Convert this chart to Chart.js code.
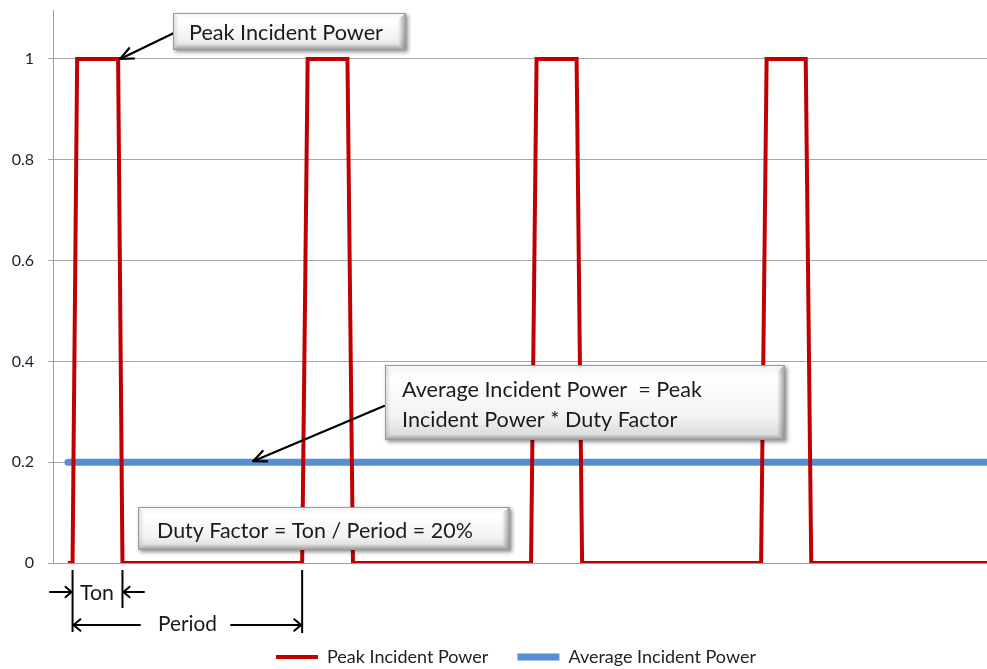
<!DOCTYPE html>
<html><head><meta charset="utf-8">
<script src="https://cdn.jsdelivr.net/npm/chart.js@4.4.1/dist/chart.umd.min.js"></script>
<style>html,body{margin:0;padding:0;background:#fff;overflow:hidden;}</style>
</head><body>
<canvas id="c" width="987" height="669"></canvas>
<script>
// ---------- data ----------
const seriesNames = ['Peak Incident Power', 'Average Incident Power'];
const peakTime  = [0.65, 0.85, 1.05, 2.83, 3.02, 10.83, 11.07, 12.80, 13.04, 20.78, 21.02, 22.76, 23.00, 30.78, 31.02, 32.72, 32.96, 40.6];
const peakPower = [0,    0,    1,    1,    0,    0,     1,     1,     0,     0,     1,     1,     0,     0,     1,     1,     0,     0];
const avgTime   = [0.65, 40.6];
const avgPower  = [0.2, 0.2];
const yTicks    = [0, 0.2, 0.4, 0.6, 0.8, 1];
const xRange    = [0, 40.6];
const yRange    = [0, 1.097];
// annotation anchors (data coordinates)
const peakArrowTip = [2.83, 1];
const avgArrowTip  = [8.7, 0.2];
const tonStart = 0.85, tonEnd = 3.02, periodEnd = 10.83;
const calloutPeak = 'Peak Incident Power';
const calloutAvg  = ['Average Incident Power  = Peak', 'Incident Power * Duty Factor'];
const calloutDuty = 'Duty Factor = Ton / Period = 20%';
const labelTon = 'Ton', labelPeriod = 'Period';

const FONT = "Lato, 'Open Sans', sans-serif";
const TEXT = '#1b1b1b';
const LEGEND_PAD = 29, LEGEND_FONT = 18;

function fitSize(ctx, text, target) {
  ctx.font = '100px ' + FONT;
  return 100 * target / ctx.measureText(text).width;
}
function drawBox(ctx, x, y, w, h) {
  ctx.save();
  ctx.shadowColor = 'rgba(0,0,0,0.45)';
  ctx.shadowBlur = 4; ctx.shadowOffsetX = 2; ctx.shadowOffsetY = 2;
  ctx.fillStyle = '#d8d8d8';
  ctx.fillRect(x, y, w, h);
  ctx.restore();
  ctx.save();
  let g = ctx.createLinearGradient(0, y, 0, y + h);
  g.addColorStop(0, '#f4f4f4'); g.addColorStop(0.2, '#ffffff');
  g.addColorStop(0.7, '#f2f2f2'); g.addColorStop(1, '#d6d6d6');
  ctx.fillStyle = g; ctx.fillRect(x, y, w, h);
  g = ctx.createLinearGradient(x + w - 8, 0, x + w, 0);
  g.addColorStop(0, 'rgba(0,0,0,0)'); g.addColorStop(1, 'rgba(0,0,0,0.38)');
  ctx.fillStyle = g;
  ctx.beginPath(); ctx.moveTo(x + w - 8, y + 6); ctx.lineTo(x + w, y); ctx.lineTo(x + w, y + h); ctx.lineTo(x + w - 8, y + h - 6); ctx.closePath(); ctx.fill();
  g = ctx.createLinearGradient(0, y + h - 6, 0, y + h);
  g.addColorStop(0, 'rgba(0,0,0,0)'); g.addColorStop(1, 'rgba(0,0,0,0.30)');
  ctx.fillStyle = g;
  ctx.beginPath(); ctx.moveTo(x + 6, y + h - 6); ctx.lineTo(x + w - 8, y + h - 6); ctx.lineTo(x + w, y + h); ctx.lineTo(x, y + h); ctx.closePath(); ctx.fill();
  g = ctx.createLinearGradient(x, 0, x + 6, 0);
  g.addColorStop(0, 'rgba(0,0,0,0.14)'); g.addColorStop(1, 'rgba(0,0,0,0)');
  ctx.fillStyle = g;
  ctx.beginPath(); ctx.moveTo(x, y); ctx.lineTo(x + 6, y + 6); ctx.lineTo(x + 6, y + h - 6); ctx.lineTo(x, y + h); ctx.closePath(); ctx.fill();
  ctx.strokeStyle = '#9a9a9a'; ctx.lineWidth = 1;
  ctx.strokeRect(x + 0.5, y + 0.5, w - 1, h - 1);
  ctx.restore();
}
function arrow(ctx, fx, fy, tx, ty, len, spread, width) {
  ctx.save();
  ctx.strokeStyle = '#000'; ctx.lineWidth = width || 2; ctx.lineCap = 'round'; ctx.lineJoin = 'round';
  ctx.beginPath(); ctx.moveTo(fx, fy); ctx.lineTo(tx, ty); ctx.stroke();
  const a = Math.atan2(ty - fy, tx - fx);
  ctx.beginPath();
  ctx.moveTo(tx - len * Math.cos(a - spread), ty - len * Math.sin(a - spread));
  ctx.lineTo(tx, ty);
  ctx.lineTo(tx - len * Math.cos(a + spread), ty - len * Math.sin(a + spread));
  ctx.stroke();
  ctx.restore();
}
function vline(ctx, x, y1, y2) {
  ctx.save(); ctx.strokeStyle = '#000'; ctx.lineWidth = 2;
  ctx.beginPath(); ctx.moveTo(x, y1); ctx.lineTo(x, y2); ctx.stroke(); ctx.restore();
}
function text(ctx, s, x, y, size) {
  ctx.save(); ctx.font = size.toFixed(2) + 'px ' + FONT; ctx.fillStyle = TEXT;
  ctx.textAlign = 'left'; ctx.textBaseline = 'alphabetic'; ctx.fillText(s, x, y); ctx.restore();
}

const annot = {
  id: 'annot',
  afterLayout(chart) {
    const lg = chart.legend;
    if (lg) {
      const h = lg.height;
      lg.top = 657 - LEGEND_PAD - LEGEND_FONT / 2;
      lg.bottom = lg.top + h;
      lg.left = 45; lg.right = 987;
    }
  },
  afterDraw(chart) {
    const ctx = chart.ctx, xs = chart.scales.x, ys = chart.scales.y;
    const px = v => xs.getPixelForValue(v), py = v => ys.getPixelForValue(v);
    arrow(ctx, 176, 32, px(peakArrowTip[0]) + 2, py(peakArrowTip[1]), 14, 0.42, 2.2);
    drawBox(ctx, 173, 13, 233, 37);
    text(ctx, calloutPeak, 189, 40, fitSize(ctx, calloutPeak, 194));
    arrow(ctx, 384, 406, px(avgArrowTip[0]), py(avgArrowTip[1]) - 1, 14, 0.42, 2.2);
    drawBox(ctx, 385, 365, 400, 75);
    const s2 = fitSize(ctx, calloutAvg[0], 300);
    text(ctx, calloutAvg[0], 402, 397, s2);
    text(ctx, calloutAvg[1], 402, 427, s2);
    drawBox(ctx, 138, 507, 372, 43);
    text(ctx, calloutDuty, 157, 538, fitSize(ctx, calloutDuty, 316));
    const x0 = px(tonStart), x1 = px(tonEnd), x2 = px(periodEnd);
    vline(ctx, x0, 570, 632);
    vline(ctx, x1, 570, 608);
    vline(ctx, x2, 570, 633);
    arrow(ctx, 50, 592, x0 - 1, 592, 8, 0.7, 2);
    arrow(ctx, 144, 592, x1 + 1, 592, 8, 0.7, 2);
    arrow(ctx, 140, 625, x0 + 1, 625, 9, 0.7, 2);
    arrow(ctx, 231, 625, x2 - 1, 625, 9, 0.7, 2);
    text(ctx, labelTon, 80, 600, fitSize(ctx, labelTon, 34));
    text(ctx, labelPeriod, 158, 631, fitSize(ctx, labelPeriod, 59));
  }
};

const toPts = (xs, ys) => xs.map((x, i) => ({x: x, y: ys[i]}));

new Chart(document.getElementById('c'), {
  type: 'line',
  data: {
    datasets: [
      { label: seriesNames[0], data: toPts(peakTime, peakPower), borderColor: '#C00000', backgroundColor: '#C00000',
        borderWidth: 4, pointRadius: 0, tension: 0, borderJoinStyle: 'miter', borderCapStyle: 'butt', fill: false },
      { label: seriesNames[1], data: toPts(avgTime, avgPower), borderColor: '#558ED5', backgroundColor: '#558ED5',
        borderWidth: 7, pointRadius: 0, tension: 0, borderCapStyle: 'round', fill: false }
    ]
  },
  options: {
    responsive: false,
    animation: false,
    layout: { padding: { top: 10, left: 0, right: 0, bottom: 0 } },
    scales: {
      x: {
        type: 'linear', min: xRange[0], max: xRange[1],
        ticks: { display: false },
        grid: { display: false },
        border: { display: true, color: '#9f9f9f', width: 1 },
        afterFit(s) { s.height = 49; s.paddingLeft = 0; s.paddingRight = 0; }
      },
      y: {
        type: 'linear', min: yRange[0], max: yRange[1],
        afterBuildTicks(s) { s.ticks = yTicks.map(v => ({ value: v })); },
        ticks: { padding: 14, color: '#1e1e30', font: { family: FONT, size: 16 },
                 callback: v => String(Number(v.toFixed(2))) },
        grid: { color: '#a6a6a6', lineWidth: 1, tickLength: 5, drawTicks: true },
        border: { display: true, color: '#9f9f9f', width: 1 },
        afterFit(s) { s.width = 53; s.paddingTop = 0; s.paddingBottom = 0; }
      }
    },
    plugins: {
      legend: {
        position: 'bottom',
        labels: {
          usePointStyle: true, pointStyle: 'line', pointStyleWidth: 42,
          padding: LEGEND_PAD, color: '#222', font: { family: FONT, size: LEGEND_FONT }
        }
      },
      tooltip: { enabled: false }
    }
  },
  plugins: [annot]
});
</script>
</body></html>
